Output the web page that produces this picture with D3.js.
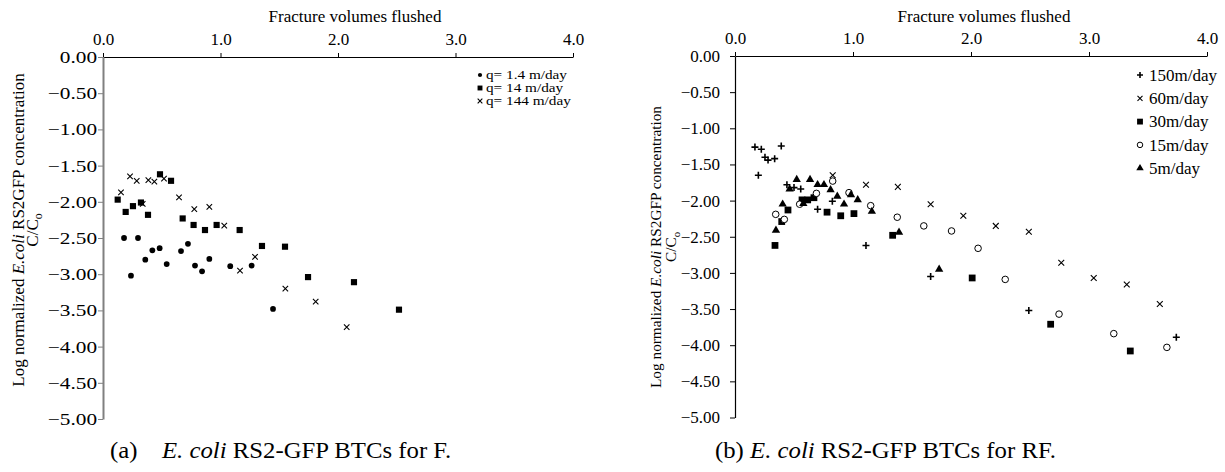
<!DOCTYPE html>
<html><head><meta charset="utf-8">
<script src="https://cdn.jsdelivr.net/npm/d3@7"></script>
<style>
body{margin:0;background:#fff}
svg{display:block}
text{font-family:"Liberation Serif","Times New Roman",serif;fill:#000}
</style>
</head><body>
<svg id="chart" width="1225" height="472"></svg>
<script>
// ---------- data ----------
const xTickValues = [0, 1, 2, 3, 4];
const yTickValues = [0, -0.5, -1, -1.5, -2, -2.5, -3, -3.5, -4, -4.5, -5];
const xTitle = "Fracture volumes flushed";

// Panel (a): fracture F
const aSeriesLabels = ["q= 1.4 m/day", "q= 14 m/day", "q= 144 m/day"];
const aQ1_4_x = [0.179,0.238,0.298,0.36,0.42,0.482,0.542,0.664,0.723,0.783,0.843,0.905,1.083,1.265,1.447];
const aQ1_4_y = [-2.50,-3.02,-2.50,-2.80,-2.67,-2.64,-2.86,-2.68,-2.58,-2.88,-2.96,-2.79,-2.89,-2.88,-3.48];
const aQ14_x = [0.125,0.193,0.255,0.323,0.383,0.485,0.579,0.678,0.771,0.868,0.967,1.163,1.353,1.549,1.745,2.136,2.519];
const aQ14_y = [-1.97,-2.14,-2.06,-2.01,-2.18,-1.62,-1.71,-2.23,-2.32,-2.39,-2.32,-2.39,-2.61,-2.62,-3.04,-3.11,-3.49];
const aQ144_x = [0.153,0.23,0.287,0.338,0.386,0.437,0.519,0.647,0.777,0.905,1.032,1.166,1.294,1.552,1.81,2.074];
const aQ144_y = [-1.87,-1.65,-1.71,-2.03,-1.70,-1.72,-1.68,-1.94,-2.10,-2.07,-2.33,-2.95,-2.76,-3.20,-3.38,-3.73];

// Panel (b): fracture RF
const bSeriesLabels = ["150m/day", "60m/day", "30m/day", "15m/day", "5m/day"];
const b150_x = [0.169,0.198,0.223,0.254,0.28,0.336,0.392,0.44,0.50,0.557,0.70,0.825,1.11,1.658,2.49,3.74];
const b150_y = [-1.26,-1.65,-1.29,-1.40,-1.44,-1.42,-1.245,-1.78,-1.82,-1.84,-2.12,-2.01,-2.62,-3.05,-3.52,-3.89];
const b60_x = [0.828,1.11,1.38,1.658,1.935,2.21,2.49,2.765,3.04,3.32,3.60];
const b60_y = [-1.65,-1.78,-1.81,-2.05,-2.21,-2.35,-2.43,-2.86,-3.07,-3.16,-3.43];
const b30_x = [0.339,0.396,0.449,0.568,0.616,0.669,0.78,0.896,1.008,1.336,2.01,2.675,3.35];
const b30_y = [-2.62,-2.29,-2.13,-1.99,-1.99,-1.96,-2.16,-2.21,-2.18,-2.48,-3.07,-3.71,-4.08];
const b15_x = [0.345,0.418,0.548,0.69,0.828,0.966,1.15,1.375,1.60,1.835,2.06,2.29,2.746,3.21,3.66];
const b15_y = [-2.19,-2.26,-2.05,-1.90,-1.73,-1.89,-2.07,-2.23,-2.35,-2.42,-2.66,-3.09,-3.57,-3.84,-4.03];
const b5_x = [0.347,0.404,0.463,0.523,0.579,0.636,0.70,0.754,0.81,0.867,0.924,0.983,1.04,1.16,1.39,1.73];
const b5_y = [-2.41,-2.05,-1.84,-1.71,-2.04,-1.71,-1.78,-1.78,-1.85,-1.94,-2.05,-1.92,-1.99,-2.15,-2.44,-2.95];

// ---------- helpers ----------
const symPlus = {draw(ctx, size){const r=Math.sqrt(size)/2;ctx.moveTo(-r,0);ctx.lineTo(r,0);ctx.moveTo(0,-r);ctx.lineTo(0,r);}};
const symX = {draw(ctx, size){const r=Math.sqrt(size)/2;ctx.moveTo(-r,-r);ctx.lineTo(r,r);ctx.moveTo(-r,r);ctx.lineTo(r,-r);}};
function stretch(sel, k){
  if (k === 1) return;
  sel.each(function(){
    const L = this.getComputedTextLength();
    d3.select(this).attr("textLength", (L*k).toFixed(1)).attr("lengthAdjust", "spacingAndGlyphs");
  });
}

const svg = d3.select("#chart");
const zip = (xs, ys) => xs.map((x, i) => [x, ys[i]]);

function panel(cfg){
  const x = d3.scaleLinear().domain([0,4]).range([cfg.x0, cfg.x1]);
  const y = d3.scaleLinear().domain([0,-5]).range([cfg.y0, cfg.y1]);
  const g = svg.append("g");

  // x axis (top)
  const gx = g.append("g").attr("transform", `translate(0,${cfg.y0})`)
    .call(d3.axisTop(x).tickValues(xTickValues).tickFormat(d3.format(".1f")).tickSize(4).tickSizeOuter(0).tickPadding(8));
  gx.select(".domain").attr("stroke", "#000").attr("stroke-width", 1.2);
  gx.selectAll("line").attr("stroke", "#000");
  gx.selectAll("text").attr("font-size", 17);

  // y axis (left)
  const gy = g.append("g").attr("transform", `translate(${cfg.x0},0)`)
    .call(d3.axisLeft(y).tickValues(yTickValues).tickFormat(d3.format(".2f")).tickSize(5).tickSizeOuter(0).tickPadding(cfg.yPad));
  gy.select(".domain").attr("stroke", cfg.yAxisColor).attr("stroke-width", cfg.yAxisWidth);
  gy.selectAll("line").attr("stroke", cfg.yAxisColor);
  gy.selectAll("text").attr("font-size", 17).call(stretch, cfg.yTickStretch);

  // x title
  g.append("text").attr("x", cfg.titleX).attr("y", 22).attr("text-anchor", "middle")
    .attr("font-size", 17).text(xTitle);

  // y title (two lines)
  const yt = g.append("text").attr("transform", `translate(${cfg.ylabX},${cfg.ylabY}) rotate(-90)`)
    .attr("text-anchor", "middle").attr("font-size", cfg.ylabSize);
  yt.append("tspan").text("Log normalized ");
  yt.append("tspan").attr("font-style", "italic").text("E.coli");
  yt.append("tspan").text(" RS2GFP  concentration");
  const yt2 = g.append("text").attr("transform", `translate(${cfg.ylabX + cfg.ylabGap},${cfg.ylabY}) rotate(-90)`)
    .attr("text-anchor", "middle").attr("font-size", cfg.ylabSize);
  yt2.append("tspan").text("C/C");
  yt2.append("tspan").attr("font-size", cfg.ylabSize*0.7).attr("dy", 4).text("o");

  // series
  cfg.series.forEach(s => {
    const pts = zip(s.xs, s.ys);
    const sym = d3.symbol().type(s.type).size(s.size);
    g.append("g").selectAll("path").data(pts).join("path")
      .attr("transform", d => `translate(${x(d[0])},${y(d[1])})`)
      .attr("d", sym)
      .attr("fill", s.fill).attr("stroke", s.stroke).attr("stroke-width", s.sw);
  });

  // legend
  const lg = g.append("g");
  cfg.series.forEach((s, i) => {
    const yy = cfg.legY + i*cfg.legStep;
    lg.append("path").attr("transform", `translate(${cfg.legX},${yy})`)
      .attr("d", d3.symbol().type(s.type).size(s.legSize))
      .attr("fill", s.fill).attr("stroke", s.stroke).attr("stroke-width", s.sw);
    lg.append("text").attr("x", cfg.legX + cfg.legTextDx).attr("y", yy).attr("dy", "0.33em")
      .attr("font-size", cfg.legFont).text(cfg.labels[i]).call(stretch, cfg.legStretch);
  });
}

panel({
  x0:103, x1:573, y0:57, y1:419, yPad:1, yAxisColor:"#808080", yAxisWidth:2, yTickStretch:1.25,
  titleX:355, ylabX:24, ylabY:230, ylabGap:14, ylabSize:17,
  legX:480, legY:75, legStep:13, legTextDx:6, legFont:12.5, legStretch:1.22,
  labels:aSeriesLabels,
  series:[
    {xs:aQ1_4_x, ys:aQ1_4_y, type:d3.symbolCircle, size:26, legSize:14, fill:"#000", stroke:"none", sw:0},
    {xs:aQ14_x, ys:aQ14_y, type:d3.symbolSquare, size:38, legSize:24, fill:"#000", stroke:"none", sw:0},
    {xs:aQ144_x, ys:aQ144_y, type:symX, size:30, legSize:22, fill:"none", stroke:"#000", sw:1.1}
  ]
});

panel({
  x0:735, x1:1207, y0:56, y1:417.5, yPad:10, yAxisColor:"#000", yAxisWidth:1.2, yTickStretch:1,
  titleX:984, ylabX:661, ylabY:247, ylabGap:15, ylabSize:15.3,
  legX:1140, legY:75, legStep:23.3, legTextDx:9, legFont:17, legStretch:1,
  labels:bSeriesLabels,
  series:[
    {xs:b150_x, ys:b150_y, type:symPlus, size:49, legSize:36, fill:"none", stroke:"#000", sw:1.6},
    {xs:b60_x, ys:b60_y, type:symX, size:34, legSize:25, fill:"none", stroke:"#000", sw:1.1},
    {xs:b30_x, ys:b30_y, type:d3.symbolSquare, size:46, legSize:34, fill:"#000", stroke:"none", sw:0},
    {xs:b15_x, ys:b15_y, type:d3.symbolCircle, size:34, legSize:24, fill:"#fff", stroke:"#000", sw:1},
    {xs:b5_x, ys:b5_y, type:d3.symbolTriangle, size:30, legSize:24, fill:"#000", stroke:"none", sw:0}
  ]
});

// captions
const capFont = 22.5, capStretch = 1.1;
svg.append("text").attr("x", 110).attr("y", 458).attr("font-size", capFont).text("(a)").call(stretch, capStretch);
const capA = svg.append("text").attr("x", 162).attr("y", 458).attr("font-size", capFont);
capA.append("tspan").attr("font-style", "italic").text("E. coli");
capA.append("tspan").text(" RS2-GFP BTCs for F.");
capA.call(stretch, capStretch);
const capB = svg.append("text").attr("x", 715).attr("y", 458).attr("font-size", capFont);
capB.append("tspan").text("(b) ");
capB.append("tspan").attr("font-style", "italic").text("E. coli");
capB.append("tspan").text(" RS2-GFP BTCs for RF.");
capB.call(stretch, capStretch);
</script>
</body></html>
